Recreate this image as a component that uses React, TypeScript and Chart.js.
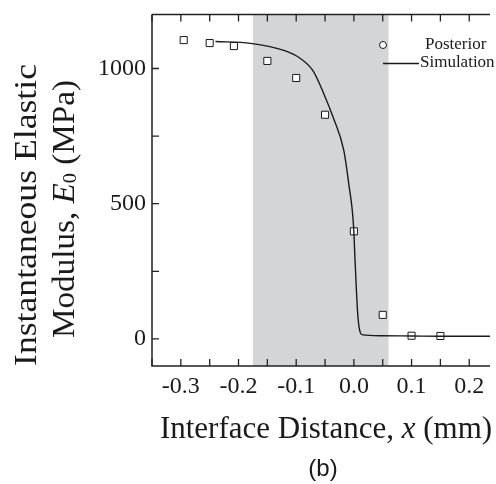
import React, { useEffect, useRef } from 'react';
import { Chart, registerables } from 'chart.js';

Chart.register(...registerables);

// ---- data ----
const posteriorX = [-0.295, -0.25, -0.208, -0.15, -0.1, -0.05, 0.0, 0.05, 0.1, 0.15];
const posteriorY = [1105, 1094, 1083, 1028, 965, 829, 398, 89, 12, 11];

const simulationX = [-0.24, -0.179, -0.12, -0.094, -0.071, -0.052, -0.035, -0.0175, -0.009, -0.0005, 0.002, 0.007, 0.014, 0.045, 0.1, 0.15, 0.2, 0.25];
const simulationY = [1100, 1093, 1066, 1039, 992, 906, 814, 697, 575, 415, 292, 83, 16, 12, 11, 10, 10, 10];

const xTickValues = [-0.35, -0.3, -0.25, -0.2, -0.15, -0.1, -0.05, 0, 0.05, 0.1, 0.15, 0.2];
const xTickLabels = ['', '-0.3', '', '-0.2', '', '-0.1', '', '0.0', '', '0.1', '', '0.2'];
const yTickValues = [0, 250, 500, 750, 1000];
const yTickLabels = ['0', '', '500', '', '1000'];

const shadedRange = [-0.175, 0.06];
const legendLabels = ['Posterior', 'Simulation'];
const xTitleParts = ['Interface Distance, ', 'x', ' (mm)'];
const yTitleLine1 = 'Instantaneous Elastic';
const yTitleLine2Parts = ['Modulus, ', 'E', '0', ' (MPa)'];
const panelLabel = '(b)';

const SERIF = "'Liberation Serif', 'Times New Roman', serif";
const INK = '#1a1a1a';

type Seg = { t: string; font: string; dy?: number };

function drawSegments(ctx: CanvasRenderingContext2D, segs: Seg[], cx: number, baseline: number) {
  let total = 0;
  segs.forEach((s) => {
    ctx.font = s.font;
    total += ctx.measureText(s.t).width;
  });
  let x = cx - total / 2;
  segs.forEach((s) => {
    ctx.font = s.font;
    ctx.fillText(s.t, x, baseline + (s.dy || 0));
    x += ctx.measureText(s.t).width;
  });
}

const decorPlugin = {
  id: 'decor',
  beforeDatasetsDraw(chart: any) {
    const { ctx, chartArea: a, scales } = chart;
    const x = scales.x;
    const x0 = x.getPixelForValue(shadedRange[0]);
    const x1 = x.getPixelForValue(shadedRange[1]);
    ctx.save();
    ctx.fillStyle = '#d4d5d7';
    ctx.fillRect(x0, a.top, x1 - x0, a.bottom - a.top);
    ctx.restore();
  },
  afterDraw(chart: any) {
    const { ctx, chartArea: a, scales } = chart;
    const x = scales.x;
    const y = scales.y;
    ctx.save();
    // axes frame (left, bottom, top)
    ctx.strokeStyle = '#222';
    ctx.lineWidth = 1.5;
    ctx.beginPath();
    ctx.moveTo(a.left, a.top);
    ctx.lineTo(a.left, a.bottom);
    ctx.lineTo(a.right, a.bottom);
    ctx.moveTo(a.left, a.top);
    ctx.lineTo(a.right, a.top);
    ctx.stroke();
    // inward tick marks
    const T = 7;
    ctx.lineWidth = 1.3;
    ctx.beginPath();
    xTickValues.forEach((v) => {
      const p = x.getPixelForValue(v);
      ctx.moveTo(p, a.bottom);
      ctx.lineTo(p, a.bottom - T);
      ctx.moveTo(p, a.top);
      ctx.lineTo(p, a.top + T);
    });
    yTickValues.forEach((v) => {
      const p = y.getPixelForValue(v);
      ctx.moveTo(a.left, p);
      ctx.lineTo(a.left + T, p);
    });
    ctx.stroke();

    // legend
    ctx.fillStyle = '#fff';
    ctx.strokeStyle = INK;
    ctx.lineWidth = 1;
    ctx.beginPath();
    ctx.arc(383, 45, 3.5, 0, Math.PI * 2);
    ctx.fill();
    ctx.stroke();
    ctx.lineWidth = 1.4;
    ctx.beginPath();
    ctx.moveTo(383, 63.5);
    ctx.lineTo(419, 63.5);
    ctx.stroke();
    ctx.fillStyle = INK;
    ctx.font = `17px ${SERIF}`;
    ctx.textAlign = 'left';
    ctx.textBaseline = 'middle';
    ctx.fillText(legendLabels[0], 425, 45);
    ctx.fillText(legendLabels[1], 420, 63);

    // x title
    ctx.textBaseline = 'alphabetic';
    drawSegments(
      ctx,
      [
        { t: xTitleParts[0], font: `31px ${SERIF}` },
        { t: xTitleParts[1], font: `italic 31px ${SERIF}` },
        { t: xTitleParts[2], font: `31px ${SERIF}` },
      ],
      326,
      438
    );

    // y title (rotated)
    ctx.save();
    ctx.translate(36, 215);
    ctx.rotate(-Math.PI / 2);
    ctx.scale(1.15, 1);
    drawSegments(ctx, [{ t: yTitleLine1, font: `31px ${SERIF}` }], 0, 0);
    ctx.restore();
    ctx.save();
    ctx.translate(74, 209);
    ctx.rotate(-Math.PI / 2);
    ctx.scale(1.07, 1);
    drawSegments(
      ctx,
      [
        { t: yTitleLine2Parts[0], font: `31px ${SERIF}` },
        { t: yTitleLine2Parts[1], font: `italic 31px ${SERIF}` },
        { t: yTitleLine2Parts[2], font: `19px ${SERIF}`, dy: 2 },
        { t: yTitleLine2Parts[3], font: `31px ${SERIF}` },
      ],
      0,
      0
    );
    ctx.restore();

    // panel label
    ctx.font = `24px 'Liberation Sans', Arial, sans-serif`;
    ctx.textAlign = 'center';
    ctx.fillText(panelLabel, 323, 476);
    ctx.restore();
  },
};

export default function App() {
  const ref = useRef<HTMLCanvasElement>(null);
  useEffect(() => {
    const canvas = ref.current;
    if (!canvas) return;
    const chart = new Chart(canvas, {
      type: 'scatter',
      data: {
        datasets: [
          {
            label: legendLabels[1],
            data: simulationX.map((v, i) => ({ x: v, y: simulationY[i] })),
            showLine: true,
            borderColor: INK,
            borderWidth: 1.4,
            pointRadius: 0,
            pointHoverRadius: 0,
            cubicInterpolationMode: 'monotone',
            order: 1,
          } as any,
          {
            label: legendLabels[0],
            data: posteriorX.map((v, i) => ({ x: v, y: posteriorY[i] })),
            showLine: false,
            pointStyle: 'rect',
            pointRadius: 5,
            backgroundColor: '#fff',
            borderColor: INK,
            borderWidth: 1,
            order: 2,
          } as any,
        ],
      },
      options: {
        responsive: false,
        animation: false,
        devicePixelRatio: 1,
        layout: { padding: { top: 14, right: 0, left: 0, bottom: 0 } },
        plugins: { legend: { display: false }, tooltip: { enabled: false } },
        scales: {
          x: {
            type: 'linear',
            min: -0.35,
            max: 0.236,
            afterBuildTicks: (s: any) => {
              s.ticks = [...xTickValues, s.max].map((v) => ({ value: v }));
            },
            afterFit: (s: any) => {
              s.height = 118;
            },
            ticks: {
              autoSkip: false,
              maxRotation: 0,
              minRotation: 0,
              padding: 0,
              color: INK,
              font: { family: SERIF, size: 24 },
              callback: (_v: any, i: number) => xTickLabels[i] ?? '',
            },
            grid: { display: false, drawTicks: true, tickLength: 6 },
            border: { display: false },
          },
          y: {
            type: 'linear',
            min: -100,
            max: 1200,
            afterBuildTicks: (s: any) => {
              s.ticks = yTickValues.map((v) => ({ value: v }));
            },
            afterFit: (s: any) => {
              s.width = 152;
            },
            ticks: {
              autoSkip: false,
              padding: 0,
              color: INK,
              font: { family: SERIF, size: 24 },
              callback: (_v: any, i: number) => yTickLabels[i] ?? '',
            },
            grid: { display: false, drawTicks: true, tickLength: 6 },
            border: { display: false },
          },
        },
      },
      plugins: [decorPlugin],
    } as any);
    return () => chart.destroy();
  }, []);
  return (
    <div style={{ position: 'fixed', left: 0, top: 0, width: 496, height: 484, background: '#fff' }}>
      <canvas ref={ref} width={496} height={484} style={{ display: 'block', width: 496, height: 484 }} />
    </div>
  );
}
